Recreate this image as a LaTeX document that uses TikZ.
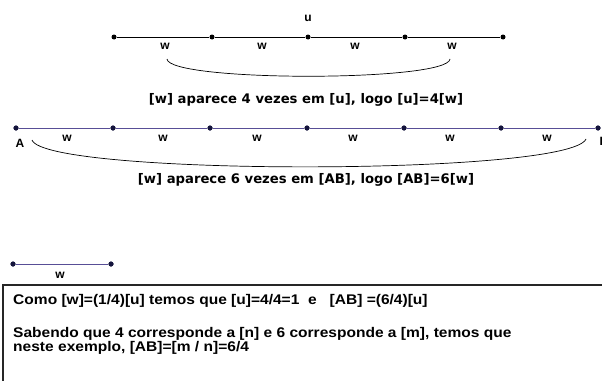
\documentclass[tikz,border=0pt]{standalone}
\usepackage{fontspec}
\setmainfont{Liberation Sans}
\newfontfamily\capfont{DejaVu Sans}
\begin{document}
\begin{tikzpicture}[x=1pt,y=-1pt,
  dot/.style={circle,fill=#1,draw=none,inner sep=0pt,minimum size=5pt},
  dot/.default=black,
  lbl/.style={font=\bfseries\fontsize{12}{13}\selectfont,inner sep=0pt},
  captxt/.style={font=\capfont\bfseries\fontsize{13.2}{15}\selectfont,inner sep=0pt},
  boxtxt/.style={font=\bfseries\fontsize{14}{15}\selectfont,inner sep=0pt,anchor=west,xscale=1.11,transform shape},
]
\definecolor{segline}{RGB}{88,78,150}
\definecolor{segdot}{RGB}{20,20,60}
\clip (0,0) rectangle (602,380);
\fill[white] (0,0) rectangle (602,380);
% top segment u
\foreach \i/\x in {0/114,1/212,2/308,3/405,4/503}
  \node[dot] (u\i) at (\x,37) {};
\draw[black,line width=0.8pt] (u0) -- (u1) -- (u2) -- (u3) -- (u4);
\node[lbl] (ulab) at (308,18) {u};
\node[lbl] (uw1) at (165,46) {w};
\node[lbl] (uw2) at (262,46) {w};
\node[lbl] (uw3) at (355,46) {w};
\node[lbl] (uw4) at (452,46) {w};
\coordinate (ua) at (167,59);
\coordinate (ub) at (450,59);
\draw[black,line width=0.7pt] (ua) .. controls (169,82) and (448,82) .. (ub);
\node[captxt] (cap1) at (306,100) {[w] aparece 4 vezes em [u], logo [u]=4[w]};
% second segment AB
\foreach \i/\x in {0/16,1/113,2/210,3/307,4/404,5/501,6/598}
  \node[dot=segdot] (p\i) at (\x,128) {};
\draw[segline,line width=0.9pt] (p0) -- (p1) -- (p2) -- (p3) -- (p4) -- (p5) -- (p6);
\foreach \i in {0,...,6} \node[dot=segdot] at (p\i) {};
\node[lbl] (A) at (20,143) {A};
\node[lbl] (B) at (604,141) {B};
\node[lbl] (w1) at (67,138) {w};
\node[lbl] (w2) at (163,138) {w};
\node[lbl] (w3) at (257,138) {w};
\node[lbl] (w4) at (353,138) {w};
\node[lbl] (w5) at (450,138) {w};
\node[lbl] (w6) at (547,138) {w};
\coordinate (aa) at (32,140);
\coordinate (ab) at (586,139);
\draw[black,line width=0.7pt] (aa) .. controls (45,176) and (570,176) .. (ab);
\node[captxt] (cap2) at (306,180) {[w] aparece 6 vezes em [AB], logo [AB]=6[w]};
% small w segment
\node[dot=segdot] (s0) at (13,264) {};
\node[dot=segdot] (s1) at (111,264) {};
\draw[segline,line width=0.9pt] (s0) -- (s1);
\node[dot=segdot] at (s0) {};
\node[dot=segdot] at (s1) {};
\node[lbl] (sw) at (60,275) {w};
% box
\coordinate (bxl) at (3,392);
\coordinate (bxt) at (3,285);
\coordinate (bxr) at (612,285);
\draw[black!85,line width=1.4pt] (bxl) -- (bxt) -- (bxr);
\node[boxtxt] (t1) at (13,301) {Como [w]=(1/4)[u] temos que [u]=4/4=1\ \ e\ \ \ [AB] =(6/4)[u]};
\node[boxtxt] (t2) at (13,334) {Sabendo que 4 corresponde a [n] e 6 corresponde a [m], temos que};
\node[boxtxt] (t3) at (13,348) {neste exemplo, [AB]=[m / n]=6/4};
\end{tikzpicture}
\end{document}
